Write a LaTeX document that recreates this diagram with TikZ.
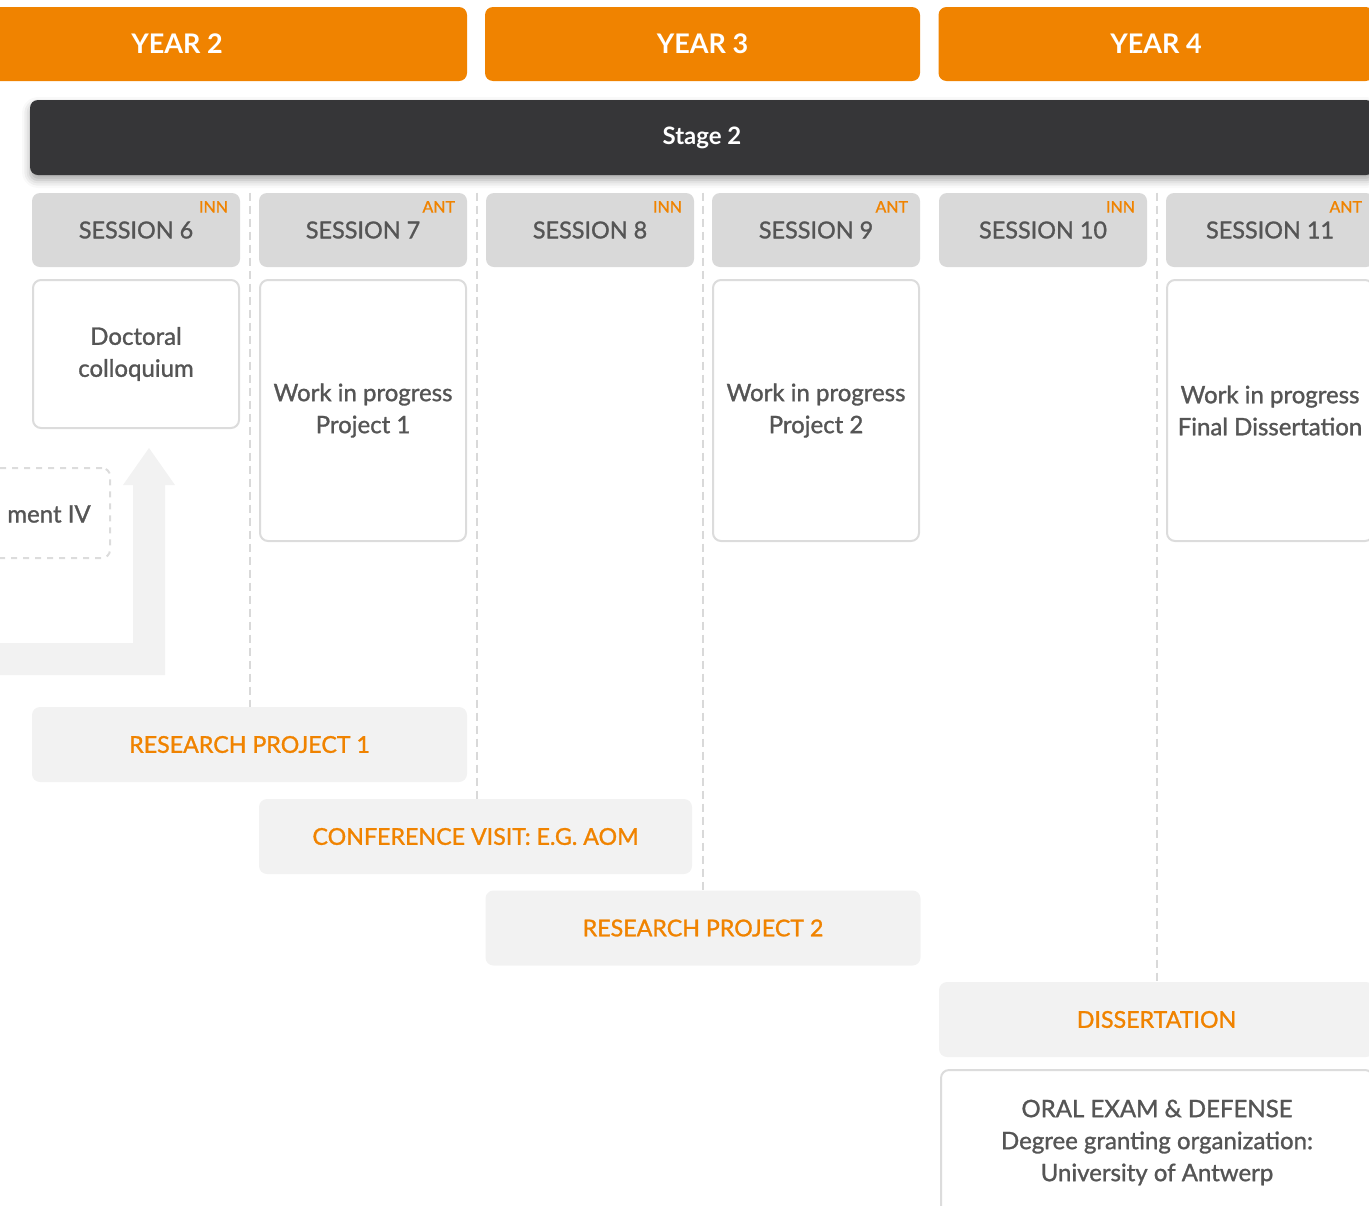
\documentclass[tikz,border=0pt]{standalone}
\usepackage{fontspec}
\setmainfont{Lato}
\newfontfamily\medfont{Lato}[FakeBold=1.2]
\usetikzlibrary{positioning, calc, shadows.blur}

\definecolor{uaorange}{HTML}{F08300}
\definecolor{stagedark}{HTML}{363638}
\definecolor{sessgray}{HTML}{D9D9D9}
\definecolor{barfill}{HTML}{F2F2F2}
\definecolor{edgegray}{HTML}{DCDCDC}
\definecolor{textgray}{HTML}{555555}

\tikzset{
  yearbox/.style={fill=uaorange, rounded corners=4pt, minimum height=37pt,
    text=white, font=\fontsize{13.5}{16}\selectfont\bfseries},
  stagebar/.style={fill=stagedark, rounded corners=4pt, minimum height=37.5pt,
    minimum width=672pt, text=white, font=\fontsize{12}{14}\selectfont\bfseries,
    blur shadow={shadow xshift=0pt, shadow yshift=-2.5pt, shadow blur radius=4pt, shadow opacity=35}},
  sessbox/.style={fill=sessgray, rounded corners=4pt, minimum width=104pt,
    minimum height=37pt, text=textgray, font=\medfont\fontsize{11.7}{14}\selectfont},
  sesstag/.style={text=uaorange, inner sep=0pt, font=\medfont\fontsize{8}{9}\selectfont},
  workbox/.style={draw=edgegray, line width=1pt, fill=white, rounded corners=4pt,
    minimum width=103pt, text=textgray, align=center,
    font=\medfont\fontsize{12}{16}\selectfont},
  phasebar/.style={fill=barfill, rounded corners=4pt, minimum height=37.5pt,
    text=uaorange, font=\medfont\fontsize{11.6}{13}\selectfont},
  divider/.style={draw=sessgray, line width=1pt, dash pattern=on 4pt off 2.5pt},
}

\begin{document}
\begin{tikzpicture}[x=0.5pt, y=-0.5pt]

  \useasboundingbox (0,0) rectangle (1369,1205);
  \clip (0,0) rectangle (1369,1205);

  % Years
  \node[yearbox, minimum width=290pt] (y2) at (177,44) {YEAR 2};
  \node[yearbox, minimum width=217.5pt] (y3) at (702.5,44) {YEAR 3};
  \node[yearbox, minimum width=217.5pt] (y4) at (1156,44) {YEAR 4};

  % Stage bar
  \node[stagebar] (stage) at (702,137.5) {Stage 2};

  % Session headers with INN / ANT tags
  \foreach \n/\x/\tag in {6/136/INN, 7/363/ANT, 8/590/INN, 9/816/ANT, 10/1043/INN, 11/1270/ANT} {
    \node[sessbox] (s\n) at (\x,230) {SESSION \n};
    \node[sesstag, anchor=base east] (t\n) at ([xshift=-6pt, yshift=-10pt]s\n.north east) {\tag};
  }

  % Session contents
  \node[workbox, minimum height=74pt] (coll) at (136,354) {Doctoral\\colloquium};
  \node[workbox, minimum height=130.5pt] (wip1) at (363,410.5) {Work in progress\\Project 1};
  \node[workbox, minimum height=130.5pt] (wip2) at (816,410.5) {Work in progress\\Project 2};
  \node[workbox, minimum height=130.5pt] (wip3) at (1270,410.5) {Work in progress\\Final Dissertation};

  % Assignment box cut at the left edge
  \node[draw=edgegray, line width=1pt, dashed, rounded corners=4pt,
    minimum width=105pt, minimum height=45pt] (asg) at (5,513) {};
  \node[text=textgray, font=\medfont\fontsize{12}{14}\selectfont] (asgtext) at (49,514) {ment IV};

  % Big arrow up to the colloquium
  \fill[barfill] (-10,643) -- (133,643) -- (133,485) -- (123,485) -- (149,448)
    -- (175,485) -- (165,485) -- (165,675) -- (-10,675) -- cycle;

  % Phases
  \node[phasebar, minimum width=217.5pt] (rp1) at (249.5,744.5) {RESEARCH PROJECT 1};
  \node[phasebar, minimum width=216.5pt] (conf) at (475.5,836.5) {CONFERENCE VISIT: E.G. AOM};
  \node[phasebar, minimum width=217.5pt] (rp2) at (703,928) {RESEARCH PROJECT 2};
  \node[phasebar, minimum width=217.5pt] (diss) at (1156.5,1019.5) {DISSERTATION};

  \node[workbox, minimum width=216pt, minimum height=72.5pt] (oral) at (1157,1142.5)
    {ORAL EXAM \& DEFENSE\\Degree granting organization:\\University of Antwerp};

  % Dividers between sessions
  \path (s6.north east) -- (s7.north west) coordinate[midway] (d67);
  \path (s7.north east) -- (s8.north west) coordinate[midway] (d78);
  \path (s8.north east) -- (s9.north west) coordinate[midway] (d89);
  \path (s10.north east) -- (s11.north west) coordinate[midway] (d1011);
  \draw[divider] (d67) -- (d67 |- rp1.north);
  \draw[divider] (d78) -- (d78 |- conf.north);
  \draw[divider] (d89) -- (d89 |- rp2.north);
  \draw[divider] (d1011) -- (d1011 |- diss.north);

\end{tikzpicture}
\end{document}
